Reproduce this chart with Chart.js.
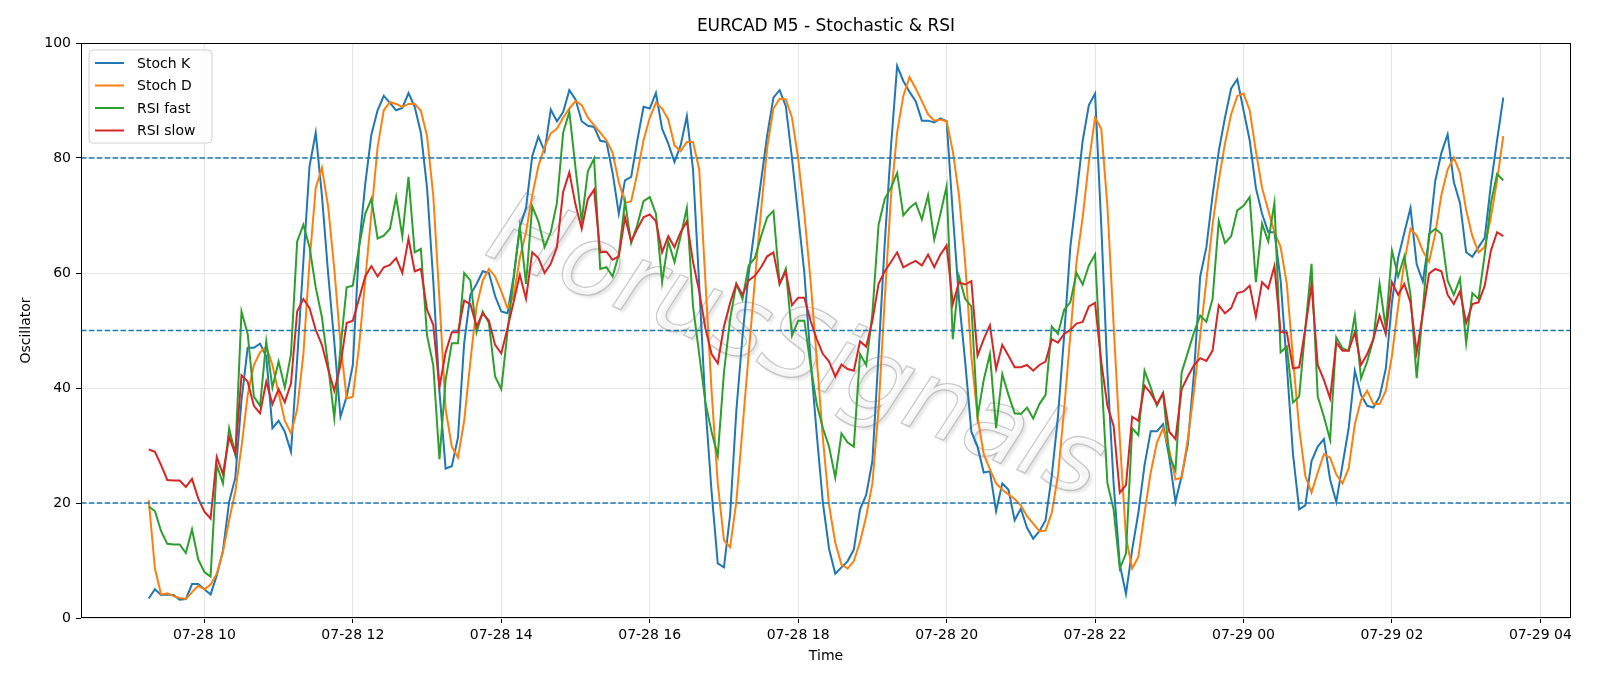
<!DOCTYPE html>
<html>
<head>
<meta charset="utf-8">
<title>EURCAD M5 - Stochastic & RSI</title>
<script src="https://cdn.jsdelivr.net/npm/chart.js@4.4.0/dist/chart.umd.min.js"></script>
<style>
  html, body { margin: 0; padding: 0; background: #fff; }
  #wrap { width: 1600px; height: 686px; }
</style>
</head>
<body>
<div id="wrap"><canvas id="myChart" width="1600" height="686"></canvas></div>
<script>
// 5 minute bars, 07-28 09:15 -> 07-29 03:30
var startLabel = '07-28 09:15';
var stepMinutes = 5;

var stochK = [
  3.4, 5.0, 4.0, 4.1, 4.0, 3.2, 3.3, 5.9, 5.9, 5.0,
  4.1, 7.4, 11.7, 20.2, 24.4, 37.9, 47.0, 47.0, 47.7, 45.5,
  33.0, 34.3, 32.4, 28.9, 45.0, 62.0, 78.6, 84.4, 73.5, 60.0,
  48.0, 35.0, 38.5, 44.0, 64.5, 75.4, 84.1, 88.3, 90.8, 89.6,
  88.3, 88.7, 91.3, 88.9, 84.4, 74.8, 58.7, 39.5, 26.0, 26.4,
  31.4, 47.8, 56.2, 58.1, 60.3, 60.0, 56.0, 53.3, 53.0, 59.4,
  68.0, 71.3, 80.3, 83.7, 81.2, 88.4, 86.4, 88.0, 91.8, 90.2,
  86.4, 85.6, 85.4, 83.0, 82.8, 77.4, 70.3, 76.1, 76.7, 83.1,
  88.9, 88.6, 91.3, 85.1, 82.5, 79.3, 82.2, 87.3, 78.0, 58.0,
  37.0, 22.0, 9.5, 8.8, 18.0, 36.0, 49.0, 60.0, 68.0, 76.0,
  84.0, 90.5, 91.8, 89.0, 80.0, 70.0, 60.0, 45.0, 32.0, 20.0,
  12.0, 7.7, 8.8, 9.9, 11.9, 18.9, 21.4, 27.3, 45.9, 65.2,
  81.9, 96.0, 93.4, 91.5, 89.9, 86.5, 86.5, 86.2, 86.9, 86.4,
  70.3, 55.5, 44.6, 32.4, 29.8, 25.3, 25.5, 18.6, 23.4, 22.3,
  17.0, 19.0, 15.7, 13.8, 15.1, 17.0, 24.7, 35.0, 49.1, 64.5,
  73.5, 83.0, 89.2, 91.2, 68.4, 42.7, 23.4, 9.3, 4.2, 11.9,
  18.3, 26.6, 32.5, 32.5, 33.7, 27.9, 20.2, 24.7, 30.2, 42.7,
  59.4, 64.5, 73.5, 81.2, 87.0, 92.1, 93.7, 88.3, 83.1, 74.8,
  70.3, 67.1, 67.1, 58.7, 44.0, 28.5, 18.9, 19.6, 27.3, 29.8,
  31.1, 24.1, 20.2, 26.6, 33.0, 43.0, 38.8, 36.9, 36.6, 38.5,
  43.3, 54.9, 62.6, 67.0, 71.3, 61.5, 58.5, 66.0, 76.0, 80.9,
  84.1, 75.8, 72.2, 63.6, 62.8, 64.5, 66.1, 75.4, 83.1, 90.5
];

var stochD = [
  20.5, 8.6, 4.1, 4.3, 3.8, 3.5, 3.3, 4.5, 5.6, 5.0,
  5.8, 7.7, 11.5, 17.0, 22.0, 29.8, 38.8, 44.0, 46.2, 47.2,
  44.0, 39.1, 34.3, 32.1, 36.3, 45.9, 62.0, 74.8, 78.3, 71.6,
  60.7, 47.8, 38.2, 38.5, 47.2, 58.7, 70.3, 81.9, 88.3, 89.7,
  89.4, 88.9, 89.4, 89.4, 88.2, 83.8, 73.5, 55.5, 36.3, 29.8,
  27.9, 34.3, 44.6, 54.2, 58.7, 60.7, 59.4, 56.8, 53.9, 56.0,
  62.6, 67.1, 73.5, 78.6, 81.9, 84.3, 85.1, 87.0, 88.6, 89.9,
  89.2, 87.0, 85.7, 84.4, 83.1, 80.9, 75.8, 72.2, 72.5, 77.4,
  83.1, 87.0, 89.6, 88.6, 86.7, 82.2, 81.2, 82.8, 82.8, 78.0,
  58.7, 39.5, 23.4, 13.5, 12.3, 20.2, 33.0, 45.9, 58.7, 70.9,
  81.9, 88.6, 90.3, 90.2, 87.0, 79.9, 70.3, 58.7, 45.2, 31.2,
  19.6, 13.1, 9.3, 8.6, 9.9, 13.2, 17.7, 23.4, 36.3, 55.5,
  73.2, 84.4, 90.8, 94.1, 92.1, 89.9, 87.6, 86.5, 86.7, 86.4,
  81.2, 73.5, 61.9, 45.5, 35.0, 28.5, 25.9, 23.4, 22.3, 21.5,
  20.7, 19.6, 17.7, 16.4, 15.1, 15.2, 18.3, 24.7, 36.3, 49.1,
  61.9, 69.7, 79.3, 87.0, 85.1, 71.6, 51.0, 31.1, 14.0, 8.6,
  10.6, 18.3, 25.3, 30.5, 33.0, 29.2, 24.1, 24.4, 31.1, 39.5,
  49.1, 58.7, 68.4, 76.1, 82.5, 87.6, 90.8, 91.2, 88.3, 81.2,
  74.8, 70.9, 67.1, 64.5, 58.1, 45.2, 33.0, 24.7, 21.8, 25.3,
  28.5, 27.9, 25.0, 23.4, 26.0, 33.7, 37.9, 39.5, 37.2, 37.2,
  39.5, 45.6, 54.2, 61.9, 67.7, 66.5, 63.8, 62.0, 66.8, 73.6,
  78.0, 80.1, 77.4, 70.9, 66.4, 63.6, 64.5, 69.7, 76.1, 83.8
];

var rsiFast = [
  19.4, 18.6, 15.1, 12.9, 12.8, 12.8, 11.3, 15.4, 10.2, 8.0,
  7.2, 26.6, 23.4, 33.0, 28.5, 53.3, 49.4, 38.5, 36.9, 48.1,
  40.1, 44.6, 40.1, 45.9, 65.5, 68.4, 64.5, 57.5, 52.3, 44.0,
  34.8, 47.0, 57.5, 57.8, 64.5, 70.3, 72.9, 66.0, 66.5, 67.7,
  73.2, 66.4, 76.7, 63.6, 64.2, 49.1, 44.0, 27.6, 41.4, 47.8,
  47.8, 60.0, 58.7, 49.7, 53.3, 51.3, 42.0, 39.8, 49.7, 59.0,
  68.0, 58.1, 71.6, 69.0, 64.5, 67.1, 72.2, 84.4, 88.0, 78.3,
  69.0, 77.7, 79.9, 60.7, 61.0, 59.4, 63.2, 72.5, 65.2, 68.4,
  72.5, 73.2, 70.3, 58.4, 65.5, 61.9, 66.4, 71.3, 54.2, 45.9,
  37.5, 32.4, 28.2, 42.7, 52.0, 58.1, 55.5, 61.3, 62.6, 66.4,
  69.7, 70.8, 58.1, 60.7, 49.1, 51.7, 51.7, 44.0, 37.2, 33.0,
  29.8, 24.4, 32.1, 30.5, 29.8, 45.9, 44.0, 53.0, 68.4, 72.9,
  74.8, 77.4, 70.0, 71.3, 72.2, 69.3, 73.5, 65.8, 70.3, 75.1,
  48.5, 59.4, 55.5, 54.2, 35.0, 41.4, 45.9, 33.0, 42.4, 38.8,
  35.6, 35.5, 36.6, 34.7, 37.2, 38.8, 50.7, 49.4, 53.6, 54.9,
  60.0, 58.0, 61.3, 63.2, 42.7, 23.4, 18.9, 8.6, 11.2, 33.0,
  31.8, 43.0, 40.1, 36.9, 39.1, 28.2, 25.7, 42.7, 46.2, 49.7,
  52.6, 51.5, 55.5, 69.0, 65.2, 66.4, 70.9, 71.7, 73.2, 58.4,
  68.6, 65.5, 72.2, 46.2, 47.2, 37.5, 38.5, 50.4, 61.6, 38.5,
  35.0, 31.0, 48.8, 46.9, 46.5, 52.6, 41.7, 44.6, 48.5, 58.1,
  50.4, 63.9, 59.4, 62.9, 56.2, 41.7, 53.6, 66.8, 67.7, 66.8,
  58.7, 56.2, 59.0, 47.8, 56.5, 55.5, 63.2, 72.2, 77.2, 76.1
];

var rsiSlow = [
  29.3, 28.9, 26.6, 24.0, 23.9, 23.9, 22.8, 24.2, 20.8, 18.5,
  17.3, 28.0, 25.0, 31.5, 28.5, 42.2, 41.1, 36.9, 35.6, 41.1,
  37.2, 39.8, 37.5, 40.8, 53.3, 55.5, 53.9, 50.1, 47.5, 43.3,
  39.5, 44.0, 51.3, 51.7, 55.5, 59.4, 61.2, 59.4, 61.0, 61.4,
  62.6, 60.0, 66.0, 60.3, 60.7, 53.6, 51.0, 40.1, 46.2, 49.7,
  49.7, 55.2, 54.6, 50.7, 53.0, 51.7, 47.5, 46.0, 50.4, 55.0,
  59.7, 55.5, 63.6, 62.6, 60.0, 61.6, 64.5, 74.1, 77.5, 71.9,
  67.7, 72.9, 74.5, 63.6, 63.7, 62.3, 62.9, 69.7, 65.5, 67.7,
  69.7, 70.2, 69.0, 63.6, 66.4, 64.5, 67.1, 69.0, 61.9, 56.8,
  50.4, 45.9, 44.3, 50.7, 54.8, 58.1, 56.2, 58.7, 59.5, 61.0,
  62.9, 63.6, 58.1, 60.3, 54.4, 55.7, 55.7, 51.7, 48.5, 45.9,
  44.6, 42.0, 44.1, 43.3, 43.0, 48.1, 47.2, 51.7, 58.1, 60.3,
  61.9, 63.6, 61.0, 61.6, 62.1, 61.3, 63.2, 61.0, 63.2, 64.8,
  54.6, 58.4, 58.0, 58.6, 45.6, 48.5, 50.9, 43.3, 47.5, 45.6,
  43.6, 43.6, 44.0, 43.0, 44.0, 44.6, 48.5, 47.9, 49.4, 50.1,
  51.2, 51.5, 54.2, 54.8, 44.6, 36.9, 33.4, 21.8, 23.1, 35.0,
  34.3, 40.4, 39.1, 37.2, 39.1, 32.4, 31.1, 39.8, 42.0, 44.0,
  45.2, 44.7, 46.5, 54.4, 53.0, 53.9, 56.5, 56.8, 57.8, 52.4,
  58.4, 57.3, 61.2, 49.7, 49.7, 43.4, 43.6, 50.4, 57.9, 44.0,
  41.4, 38.2, 47.9, 46.5, 46.5, 49.7, 44.0, 45.9, 48.5, 52.6,
  49.4, 58.4, 56.2, 58.1, 54.9, 46.2, 53.0, 59.9, 60.7, 60.3,
  56.2, 54.6, 56.8, 51.3, 54.6, 54.9, 57.8, 63.9, 67.1, 66.4
];

var seriesLabels = ['Stoch K', 'Stoch D', 'RSI fast', 'RSI slow'];
var seriesColors = ['#1f77b4', '#ff7f0e', '#2ca02c', '#d62728'];
var refLevels = [20, 50, 80];
var xTickLabels = ['07-28 10', '07-28 12', '07-28 14', '07-28 16', '07-28 18',
                   '07-28 20', '07-28 22', '07-29 00', '07-29 02', '07-29 04'];
var yTicks = [0, 20, 40, 60, 80, 100];

var FONT = '"DejaVu Sans", "Liberation Sans", sans-serif';

// minutes since 07-28 00:00
function toMinutes(s) {
  var parts = s.split(' ');
  var day = +parts[0].split('-')[1];
  var hm = parts[1].split(':');
  return (day - 28) * 1440 + (+hm[0]) * 60 + (+(hm[1] || 0));
}
function fmtTick(m) {
  var day = 28 + Math.floor(m / 1440);
  var h = Math.floor((m % 1440) / 60);
  return '07-' + day + ' ' + (h < 10 ? '0' + h : h);
}

var t0 = toMinutes(startLabel);
var times = stochK.map(function (v, i) { return t0 + i * stepMinutes; });
var span = times[times.length - 1] - times[0];
var xMin = times[0] - span * 0.05;
var xMax = times[times.length - 1] + span * 0.05;
var tickMinutes = xTickLabels.map(function (s) { return toMinutes(s); });

function pts(arr) {
  return arr.map(function (v, i) { return { x: times[i], y: v }; });
}

var seriesData = [stochK, stochD, rsiFast, rsiSlow];
var datasets = seriesData.map(function (arr, k) {
  return {
    label: seriesLabels[k],
    data: pts(arr),
    borderColor: seriesColors[k],
    backgroundColor: seriesColors[k],
    borderWidth: 2,
    pointRadius: 0,
    tension: 0,
    fill: false,
    order: 4 - k
  };
});
refLevels.forEach(function (lvl) {
  datasets.push({
    label: 'level ' + lvl,
    data: [{ x: xMin, y: lvl }, { x: xMax, y: lvl }],
    borderColor: '#1f77b4',
    borderWidth: 1.4,
    borderDash: [5.5, 2.4],
    pointRadius: 0,
    fill: false,
    order: 0
  });
});

var decor = {
  id: 'decor',
  beforeDatasetsDraw: function (chart) {
    // watermark
    var ctx = chart.ctx;
    ctx.save();
    ctx.translate(795, 352);
    ctx.rotate(22 * Math.PI / 180);
    ctx.font = 'italic 100px ' + FONT;
    ctx.textAlign = 'center';
    ctx.textBaseline = 'middle';
    ctx.shadowColor = 'rgba(0,0,0,0.18)';
    ctx.shadowOffsetX = 3;
    ctx.shadowOffsetY = 3;
    ctx.shadowBlur = 3;
    ctx.fillStyle = 'rgba(255,255,255,0.55)';
    ctx.fillText('HorusSignals', 0, 0);
    ctx.shadowColor = 'transparent';
    ctx.strokeStyle = 'rgba(150,150,150,0.5)';
    ctx.lineWidth = 1.3;
    ctx.strokeText('HorusSignals', 0, 0);
    ctx.restore();
  },
  afterDatasetsDraw: function (chart) {
    var ctx = chart.ctx, a = chart.chartArea;
    ctx.save();
    // frame
    ctx.strokeStyle = '#000';
    ctx.lineWidth = 1;
    ctx.strokeRect(a.left + 0.5, a.top + 0.5, a.right - a.left - 1, a.bottom - a.top - 1);

    // legend
    var bx = a.left + 8, by = a.top + 7, bw = 123, bh = 93, r = 4;
    ctx.beginPath();
    ctx.moveTo(bx + r, by);
    ctx.lineTo(bx + bw - r, by);
    ctx.quadraticCurveTo(bx + bw, by, bx + bw, by + r);
    ctx.lineTo(bx + bw, by + bh - r);
    ctx.quadraticCurveTo(bx + bw, by + bh, bx + bw - r, by + bh);
    ctx.lineTo(bx + r, by + bh);
    ctx.quadraticCurveTo(bx, by + bh, bx, by + bh - r);
    ctx.lineTo(bx, by + r);
    ctx.quadraticCurveTo(bx, by, bx + r, by);
    ctx.closePath();
    ctx.fillStyle = 'rgba(255,255,255,0.8)';
    ctx.fill();
    ctx.strokeStyle = '#d0d0d0';
    ctx.lineWidth = 1;
    ctx.stroke();
    ctx.font = '14px ' + FONT;
    ctx.textBaseline = 'middle';
    ctx.textAlign = 'left';
    seriesLabels.forEach(function (lab, k) {
      var y = by + 13 + k * 22.5;
      ctx.strokeStyle = seriesColors[k];
      ctx.lineWidth = 2;
      ctx.beginPath();
      ctx.moveTo(bx + 6, y);
      ctx.lineTo(bx + 35, y);
      ctx.stroke();
      ctx.fillStyle = '#000';
      ctx.fillText(lab, bx + 48, y + 1);
    });
    ctx.restore();
  },
  afterDraw: function (chart) {
    var ctx = chart.ctx, a = chart.chartArea;
    ctx.save();
    ctx.fillStyle = '#000';
    ctx.textAlign = 'center';
    ctx.textBaseline = 'middle';
    ctx.font = '17px ' + FONT;
    ctx.fillText('EURCAD M5 - Stochastic & RSI', (a.left + a.right) / 2, 27);
    ctx.font = '14px ' + FONT;
    ctx.fillText('Time', (a.left + a.right) / 2, 656);
    ctx.translate(26, (a.top + a.bottom) / 2);
    ctx.rotate(-Math.PI / 2);
    ctx.fillText('Oscillator', 0, 0);
    ctx.restore();
  }
};

var ctx = document.getElementById('myChart');
var myChart = new Chart(ctx, {
  type: 'line',
  data: { datasets: datasets },
  options: {
    responsive: false,
    animation: false,
    devicePixelRatio: 1,
    layout: { padding: { top: 43, right: 29, left: 0, bottom: 0 } },
    plugins: {
      legend: { display: false },
      tooltip: { enabled: false },
      title: { display: false }
    },
    scales: {
      x: {
        type: 'linear',
        min: xMin,
        max: xMax,
        afterFit: function (s) { s.height = 68; },
        afterBuildTicks: function (s) {
          s.ticks = tickMinutes.map(function (v) { return { value: v }; });
        },
        ticks: {
          autoSkip: false,
          maxRotation: 0,
          padding: 4,
          color: '#000',
          font: { family: FONT, size: 14 },
          callback: function (v) { return fmtTick(v); }
        },
        grid: { color: '#e6e6e6', lineWidth: 1, tickColor: '#000', tickLength: 5, tickWidth: 1 },
        border: { display: false }
      },
      y: {
        min: 0,
        max: 100,
        afterFit: function (s) { s.width = 81; },
        afterBuildTicks: function (s) {
          s.ticks = yTicks.map(function (v) { return { value: v }; });
        },
        ticks: {
          padding: 5,
          color: '#000',
          font: { family: FONT, size: 14 }
        },
        grid: { color: '#e6e6e6', lineWidth: 1, tickColor: '#000', tickLength: 5, tickWidth: 1 },
        border: { display: false }
      }
    }
  },
  plugins: [decor]
});
</script>
</body>
</html>
